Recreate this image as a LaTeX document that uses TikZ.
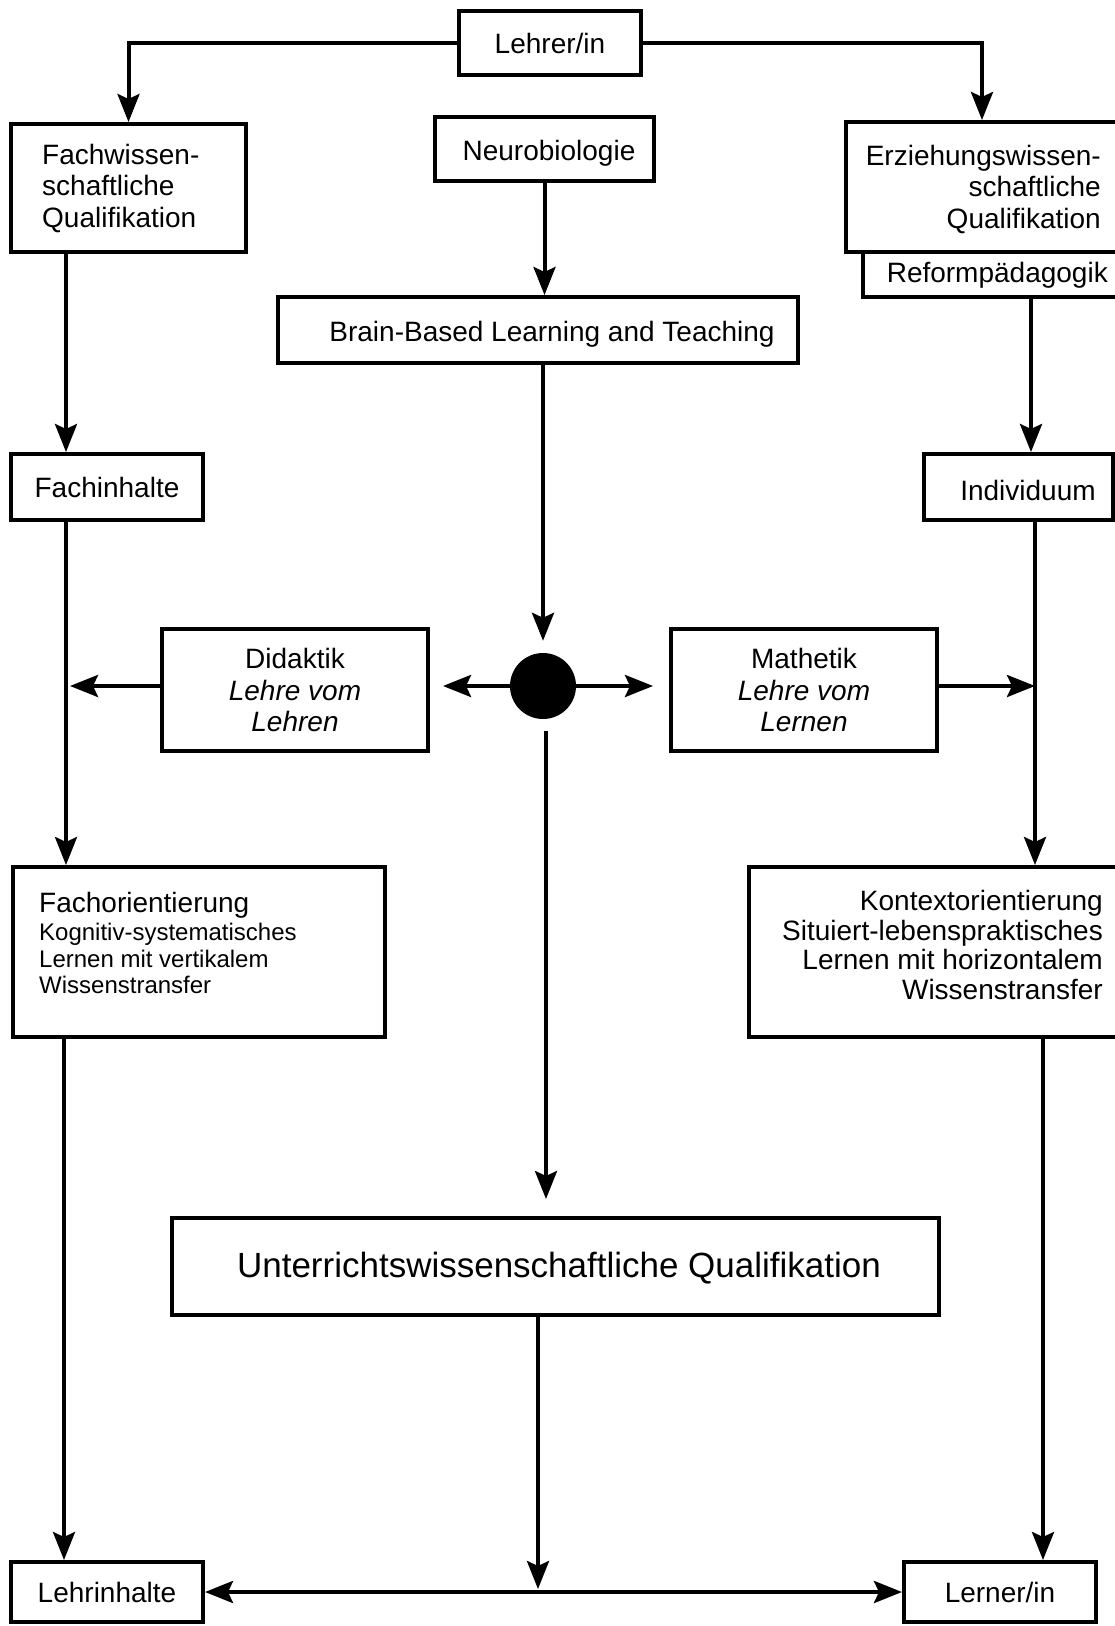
\documentclass[tikz,border=0pt]{standalone}
\usepackage{fontspec}
\setmainfont{Liberation Sans}
\usetikzlibrary{arrows.meta,calc}
\begin{document}
\begin{tikzpicture}[x=1pt,y=-1pt,
  box/.style={draw,line width=4pt,fill=white,inner sep=0pt},
  txt/.style={inner sep=0pt,font=\fontsize{28}{31.5}\selectfont},
  small/.style={inner sep=0pt,font=\fontsize{24}{27}\selectfont},
  big/.style={inner sep=0pt,font=\fontsize{35}{40}\selectfont},
  tip/.tip={Stealth[length=28pt,width=22pt,inset=5pt]},
  arr/.style={line width=4pt,-tip},
  darr/.style={line width=4pt,tip-tip}]
\useasboundingbox (0,0) rectangle (1115,1626);
\clip (0,0) rectangle (1115,1626);

% boxes
\node[box,txt,minimum width=182pt,minimum height=64pt] (lehrer) at (550,43) {Lehrer/in};
\node[box,minimum width=235pt,minimum height=128pt] (fachw) at (128.5,188) {};
\node[txt,anchor=west,align=left] (fachwT) at (42,188) {Fachwissen-\\schaftliche\\Qualifikation};
\node[box,minimum width=219pt,minimum height=64pt] (neuro) at (544.5,149) {};
\node[txt] (neuroT) at (549,153) {Neurobiologie};
\node[box,minimum width=262pt,minimum height=45pt] (reform) at (994,274.5) {};
\node[inner sep=0pt,font=\fontsize{28}{30}\selectfont,anchor=east] (reformT) at (1108,275) {Reformpädagogik};
\node[box,minimum width=279pt,minimum height=130pt] (erz) at (985.5,187) {};
\node[txt,anchor=east,align=right] (erzT) at (1101,189) {Erziehungswissen-\\schaftliche\\Qualifikation};
\node[box,minimum width=520pt,minimum height=66pt] (brain) at (538,330) {};
\node[txt] (brainT) at (552,334) {Brain-Based Learning and Teaching};
\node[box,txt,minimum width=192pt,minimum height=66pt] (fachinh) at (107,487) {Fachinhalte};
\node[box,minimum width=189pt,minimum height=66pt] (indiv) at (1018.5,487) {};
\node[txt] (indivT) at (1028,490) {Individuum};
\node[circle,fill=black,minimum size=66pt,inner sep=0pt] (dot) at (543,686) {};
\node[box,txt,align=center,minimum width=266pt,minimum height=122pt] (didaktik) at (295,690) {Didaktik\\\textit{Lehre vom}\\\textit{Lehren}};
\node[box,txt,align=center,minimum width=266pt,minimum height=122pt] (mathetik) at (804,690) {Mathetik\\\textit{Lehre vom}\\\textit{Lernen}};
\node[box,minimum width=372pt,minimum height=170pt] (fachor) at (199,952) {};
\node[txt,anchor=base west] (fo1) at (39,912) {Fachorientierung};
\node[small,anchor=base west] (fo2) at (39,940) {Kognitiv-systematisches};
\node[small,anchor=base west] (fo3) at (39,967) {Lernen mit vertikalem};
\node[small,anchor=base west] (fo4) at (39,993) {Wissenstransfer};
\node[box,minimum width=376pt,minimum height=170pt] (kontext) at (937,952) {};
\node[txt,anchor=base east] (ko1) at (1103,910) {Kontextorientierung};
\node[txt,anchor=base east] (ko2) at (1103,940) {Situiert-lebenspraktisches};
\node[txt,anchor=base east] (ko3) at (1103,969) {Lernen mit horizontalem};
\node[txt,anchor=base east] (ko4) at (1103,999) {Wissenstransfer};
\node[box,minimum width=767pt,minimum height=97pt] (unterricht) at (555.5,1266.5) {};
\node[big] (unterrichtT) at (559,1268) {Unterrichtswissenschaftliche Qualifikation};
\node[box,txt,minimum width=192pt,minimum height=60pt] (lehrinh) at (107,1592) {Lehrinhalte};
\node[box,txt,minimum width=192pt,minimum height=60pt] (lerner) at (1000,1592) {Lerner/in};

% junction points
\coordinate (jl) at (70,686);
\coordinate (jr) at (1035,686);
\coordinate (jm) at (538,1589);

% connectors
\draw[arr] (lehrer.west) -| (fachw.north);
\draw[arr] (lehrer.east) -| ([xshift=-3.5pt]erz.north);
\draw[arr] (neuro.south) -- (neuro.south |- brain.north);
\draw[arr] ([xshift=57pt]fachw.south west) -- ([xshift=57pt]fachinh.north west);
\draw[arr] ([xshift=170pt]reform.south west) -- ([xshift=109pt]indiv.north west);
\draw[arr,shorten >=12pt] (dot.north |- brain.south) -- (dot.north);
\draw[arr,shorten >=13pt] (dot.west) -- (dot.west -| didaktik.east);
\draw[arr,shorten >=16pt] (dot.east) -- (dot.east -| mathetik.west);
\draw[arr] (jl -| didaktik.west) -- (jl);
\draw[arr] (jr -| mathetik.east) -- (jr);
\draw[arr] ([xshift=57pt]fachinh.south west) -- ([xshift=55pt]fachor.north west);
\draw[arr] ([xshift=113pt]indiv.south west) -- ([xshift=288pt]kontext.north west);
\draw[arr,shorten <=12pt,shorten >=17pt] ([xshift=3pt]dot.south) -- ([xshift=3pt]dot.south |- unterricht.north);
\draw[arr] ([xshift=-17.5pt]unterricht.south) -- (jm);
\draw[arr] ([xshift=53pt]fachor.south west) -- ([xshift=55pt]lehrinh.north west);
\draw[arr] ([xshift=296pt]kontext.south west) -- ([xshift=141pt]lerner.north west);
\draw[darr] (lehrinh.east) -- (lerner.west);
\end{tikzpicture}
\end{document}
